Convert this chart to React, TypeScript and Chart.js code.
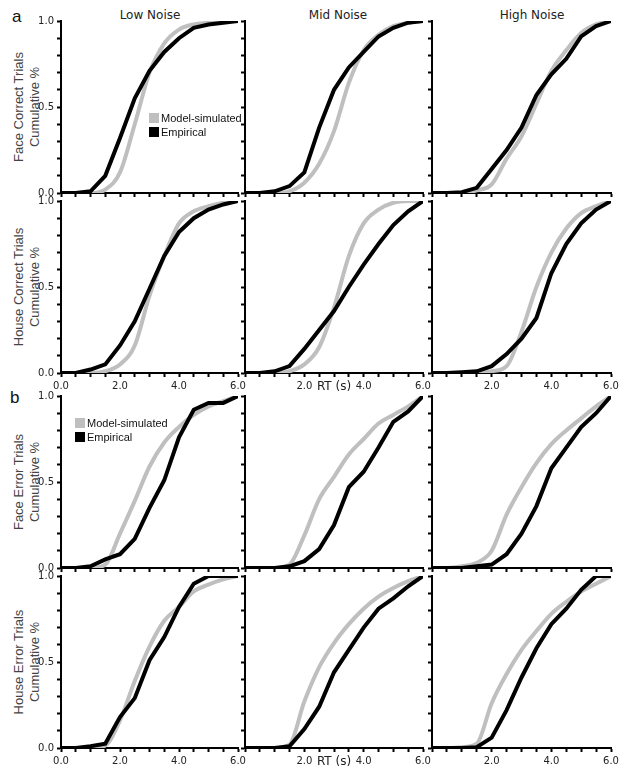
import React, { useEffect, useRef } from "react";
import { Chart, registerables } from "chart.js";

Chart.register(...registerables);

// ---------- data ----------
const rtSeconds = [0, 0.5, 1, 1.5, 2, 2.5, 3, 3.5, 4, 4.5, 5, 5.5, 6];

const noiseLevels = ["Low Noise", "Mid Noise", "High Noise"];
const trialTypes = [
  ["Face Correct Trials", "Cumulative %"],
  ["House Correct Trials", "Cumulative %"],
  ["Face Error Trials", "Cumulative %"],
  ["House Error Trials", "Cumulative %"],
];
const seriesNames = ["Model-simulated", "Empirical"];
const xTickLabels = ["0.0", "2.0", "4.0", "6.0"];
const yTickLabels = ["0.0", "0.5", "1.0"];
const xAxisTitle = "RT (s)";

// Face correct
const faceCorrectLowModel = [0, 0, 0, 0.02, 0.12, 0.4, 0.7, 0.87, 0.95, 0.98, 0.99, 1.0, 1.0];
const faceCorrectLowEmpirical = [0, 0, 0.01, 0.1, 0.32, 0.55, 0.71, 0.82, 0.9, 0.96, 0.98, 0.99, 1.0];
const faceCorrectMidModel = [0, 0, 0, 0.01, 0.06, 0.17, 0.36, 0.64, 0.83, 0.92, 0.97, 0.99, 1.0];
const faceCorrectMidEmpirical = [0, 0, 0.01, 0.04, 0.12, 0.38, 0.6, 0.73, 0.82, 0.91, 0.96, 0.99, 1.0];
const faceCorrectHighModel = [0, 0, 0, 0.015, 0.05, 0.2, 0.33, 0.52, 0.71, 0.83, 0.93, 0.98, 1.0];
const faceCorrectHighEmpirical = [0, 0, 0.005, 0.03, 0.14, 0.25, 0.38, 0.57, 0.69, 0.78, 0.91, 0.97, 1.0];

// House correct
const houseCorrectLowModel = [0, 0, 0, 0.01, 0.05, 0.16, 0.45, 0.68, 0.87, 0.94, 0.97, 0.99, 1.0];
const houseCorrectLowEmpirical = [0, 0, 0.02, 0.05, 0.16, 0.3, 0.49, 0.68, 0.82, 0.9, 0.95, 0.98, 1.0];
const houseCorrectMidModel = [0, 0, 0, 0.01, 0.05, 0.15, 0.38, 0.68, 0.87, 0.95, 0.99, 1.0, 1.0];
const houseCorrectMidEmpirical = [0, 0, 0.01, 0.04, 0.14, 0.25, 0.36, 0.5, 0.63, 0.75, 0.86, 0.94, 1.0];
const houseCorrectHighModel = [0, 0, 0, 0, 0.01, 0.04, 0.24, 0.5, 0.7, 0.84, 0.93, 0.97, 1.0];
const houseCorrectHighEmpirical = [0, 0, 0.005, 0.01, 0.04, 0.11, 0.2, 0.32, 0.58, 0.75, 0.87, 0.95, 1.0];

// Face error
const faceErrorLowModel = [0, 0, 0, 0.02, 0.2, 0.39, 0.59, 0.73, 0.82, 0.89, 0.94, 0.97, 1.0];
const faceErrorLowEmpirical = [0, 0, 0.01, 0.05, 0.08, 0.17, 0.35, 0.51, 0.76, 0.92, 0.96, 0.96, 1.0];
const faceErrorMidModel = [0, 0, 0, 0.02, 0.19, 0.4, 0.53, 0.66, 0.75, 0.84, 0.89, 0.94, 1.0];
const faceErrorMidEmpirical = [0, 0, 0, 0.01, 0.04, 0.11, 0.25, 0.47, 0.56, 0.7, 0.85, 0.91, 1.0];
const faceErrorHighModel = [0, 0, 0.01, 0.03, 0.1, 0.31, 0.47, 0.61, 0.72, 0.8, 0.87, 0.94, 1.0];
const faceErrorHighEmpirical = [0, 0, 0, 0.01, 0.02, 0.08, 0.2, 0.36, 0.58, 0.7, 0.82, 0.9, 1.0];

// House error
const houseErrorLowModel = [0, 0, 0, 0.015, 0.16, 0.39, 0.59, 0.74, 0.82, 0.91, 0.95, 0.98, 1.0];
const houseErrorLowEmpirical = [0, 0, 0.01, 0.025, 0.18, 0.29, 0.51, 0.645, 0.82, 0.955, 1.0, 1.0, 1.0];
const houseErrorMidModel = [0, 0, 0, 0.02, 0.27, 0.47, 0.61, 0.72, 0.81, 0.88, 0.93, 0.97, 1.0];
const houseErrorMidEmpirical = [0, 0, 0, 0.01, 0.11, 0.24, 0.44, 0.57, 0.7, 0.81, 0.87, 0.94, 1.0];
const houseErrorHighModel = [0, 0, 0.005, 0.025, 0.26, 0.43, 0.57, 0.68, 0.78, 0.85, 0.91, 0.955, 1.0];
const houseErrorHighEmpirical = [0, 0, 0, 0.005, 0.06, 0.22, 0.41, 0.58, 0.72, 0.81, 0.92, 1.0, 1.0];

const modelGrid = [
  [faceCorrectLowModel, faceCorrectMidModel, faceCorrectHighModel],
  [houseCorrectLowModel, houseCorrectMidModel, houseCorrectHighModel],
  [faceErrorLowModel, faceErrorMidModel, faceErrorHighModel],
  [houseErrorLowModel, houseErrorMidModel, houseErrorHighModel],
];
const empiricalGrid = [
  [faceCorrectLowEmpirical, faceCorrectMidEmpirical, faceCorrectHighEmpirical],
  [houseCorrectLowEmpirical, houseCorrectMidEmpirical, houseCorrectHighEmpirical],
  [faceErrorLowEmpirical, faceErrorMidEmpirical, faceErrorHighEmpirical],
  [houseErrorLowEmpirical, houseErrorMidEmpirical, houseErrorHighEmpirical],
];

// ---------- layout ----------
const COL_LEFT = [61, 245, 432];
const COL_WIDTH = [177, 178, 179];
const ROW_TOP = [20, 200, 395, 575];
const ROW_HEIGHT = 173;
const Y_AXIS_W = 45;
const X_AXIS_H = 24;
const PAD_TOP = 8;
const PAD_RIGHT = 12;

const MODEL_COLOR = "#bfbfbf";
const EMP_COLOR = "#000000";
const TICK_FONT = "'DejaVu Sans', Verdana, sans-serif";

function round1(v: number) {
  return Math.round(v * 10) / 10;
}

function Panel({ row, col }: { row: number; col: number }) {
  const ref = useRef<HTMLCanvasElement | null>(null);
  const w = Y_AXIS_W + COL_WIDTH[col] + PAD_RIGHT;
  const h = PAD_TOP + ROW_HEIGHT + X_AXIS_H;
  useEffect(() => {
    if (!ref.current) return;
    const showXLabels = row === 1 || row === 3;
    const model = modelGrid[row][col];
    const emp = empiricalGrid[row][col];
    const chart = new Chart(ref.current, {
      type: "line",
      data: {
        datasets: [
          {
            label: seriesNames[1],
            data: rtSeconds.map((x, i) => ({ x, y: emp[i] })),
            borderColor: EMP_COLOR,
            borderWidth: 4,
            pointRadius: 0,
            tension: 0,
            order: 0,
            borderJoinStyle: "miter",
          },
          {
            label: seriesNames[0],
            data: rtSeconds.map((x, i) => ({ x, y: model[i] })),
            borderColor: MODEL_COLOR,
            borderWidth: 4,
            pointRadius: 0,
            cubicInterpolationMode: "monotone",
            order: 1,
          },
        ],
      },
      options: {
        animation: false,
        responsive: false,
        maintainAspectRatio: false,
        events: [],
        layout: { padding: { top: PAD_TOP, right: PAD_RIGHT, left: 0, bottom: 0 } },
        plugins: { legend: { display: false }, tooltip: { enabled: false }, title: { display: false } },
        scales: {
          x: {
            type: "linear",
            min: 0,
            max: 6,
            afterFit: (s: any) => {
              s.height = X_AXIS_H;
            },
            border: { display: true, color: "#000", width: 2 },
            grid: {
              drawOnChartArea: false,
              drawTicks: true,
              tickLength: 4,
              tickWidth: 2,
              tickColor: "#000",
              color: "#000",
            },
            ticks: {
              stepSize: 0.5,
              autoSkip: false,
              maxRotation: 0,
              minRotation: 0,
              padding: 3,
              color: "#222",
              font: (ctx: any) => ({
                family: TICK_FONT,
                size: ctx.tick && Math.abs(ctx.tick.value - 3) < 1e-6 ? 12 : 10,
              }),
              callback: (value: any) => {
                if (!showXLabels) return "";
                const v = round1(Number(value));
                if (col === 1 && v === 3) return xAxisTitle;
                if (col !== 0 && v === 0) return "";
                const idx = [0, 2, 4, 6].indexOf(v);
                return idx >= 0 ? xTickLabels[idx] : "";
              },
            },
          },
          y: {
            type: "linear",
            min: 0,
            max: 1,
            afterFit: (s: any) => {
              s.width = Y_AXIS_W;
            },
            border: { display: true, color: "#000", width: 2 },
            grid: {
              drawOnChartArea: false,
              drawTicks: true,
              tickLength: 4,
              tickWidth: 2,
              tickColor: "#000",
              color: "#000",
            },
            ticks: {
              stepSize: 0.1,
              autoSkip: false,
              padding: 3,
              color: "#222",
              font: { family: TICK_FONT, size: 10 },
              callback: (value: any) => {
                if (col !== 0) return "";
                const v = round1(Number(value));
                const idx = [0, 0.5, 1].indexOf(v);
                return idx >= 0 ? yTickLabels[idx] : "";
              },
            },
          },
        },
      } as any,
    });
    return () => chart.destroy();
  }, [row, col]);
  return (
    <canvas
      ref={ref}
      width={w}
      height={h}
      style={{
        position: "absolute",
        left: COL_LEFT[col] - Y_AXIS_W,
        top: ROW_TOP[row] - PAD_TOP,
        width: w,
        height: h,
      }}
    />
  );
}

function Legend({ left, top }: { left: number; top: number }) {
  const item = (color: string, text: string, dy: number) => (
    <div style={{ position: "absolute", left, top: top + dy, height: 10, display: "flex", alignItems: "center" }}>
      <div style={{ width: 10, height: 10, background: color, marginRight: 2 }} />
      <span
        style={{
          fontFamily: "'Liberation Sans', Arial, sans-serif",
          fontSize: 11,
          lineHeight: "10px",
          color: "#111",
          whiteSpace: "nowrap",
        }}
      >
        {text}
      </span>
    </div>
  );
  return (
    <>
      {item(MODEL_COLOR, seriesNames[0], 0)}
      {item(EMP_COLOR, seriesNames[1], 14)}
    </>
  );
}

export default function App() {
  const titleCenters = [150, 338, 532];
  return (
    <div
      style={{
        position: "absolute",
        left: 0,
        top: 0,
        width: 624,
        height: 778,
        background: "#fff",
        overflow: "hidden",
      }}
    >
      {noiseLevels.map((t, i) => (
        <div
          key={t}
          style={{
            position: "absolute",
            left: titleCenters[i] - 60,
            width: 120,
            top: 8,
            textAlign: "center",
            fontFamily: TICK_FONT,
            fontSize: 12,
            lineHeight: "14px",
            color: "#222",
          }}
        >
          {t}
        </div>
      ))}
      {trialTypes.map((lines, r) => {
        const cy = ROW_TOP[r] + ROW_HEIGHT / 2;
        return (
          <div
            key={lines[0]}
            style={{
              position: "absolute",
              left: 26.5 - 100,
              top: cy - 16,
              width: 200,
              height: 32,
              transform: "rotate(-90deg)",
              transformOrigin: "50% 50%",
              textAlign: "center",
              fontFamily: "'Liberation Sans', Arial, sans-serif",
              fontSize: 13,
              lineHeight: "16px",
              color: "#444",
            }}
          >
            <div>{lines[0]}</div>
            <div>{lines[1]}</div>
          </div>
        );
      })}
      <div
        style={{
          position: "absolute",
          left: 12,
          top: 8,
          fontFamily: "'Liberation Sans', Arial, sans-serif",
          fontSize: 17,
          lineHeight: "17px",
          color: "#111",
        }}
      >
        a
      </div>
      <div
        style={{
          position: "absolute",
          left: 10,
          top: 389,
          fontFamily: "'Liberation Sans', Arial, sans-serif",
          fontSize: 17,
          lineHeight: "17px",
          color: "#111",
        }}
      >
        b
      </div>
      {[0, 1, 2, 3].map((r) =>
        [0, 1, 2].map((c) => <Panel key={`${r}-${c}`} row={r} col={c} />)
      )}
      <Legend left={149} top={113} />
      <Legend left={75} top={418} />
    </div>
  );
}
